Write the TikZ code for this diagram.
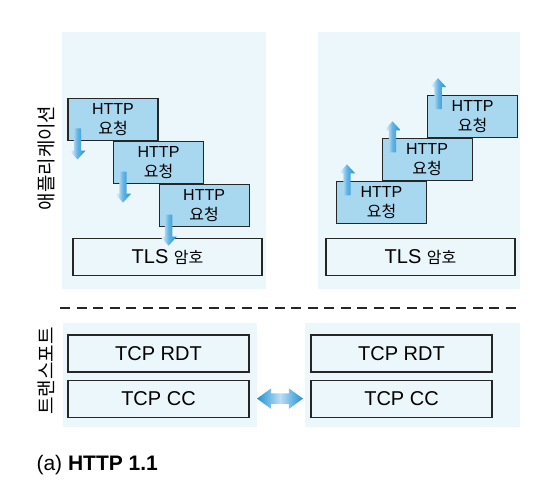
\documentclass[tikz,border=0pt]{standalone}
\usepackage{fontspec}
\setmainfont{Liberation Sans}
\newfontfamily\kr{Noto Sans CJK KR}
\usepackage{xcolor}
\usetikzlibrary{shapes.arrows, positioning, calc}

\definecolor{panelbg}{RGB}{235,247,251}
\definecolor{boxblue}{RGB}{168,215,240}
\definecolor{arrowblue}{RGB}{30,146,214}

\begin{document}
\begin{tikzpicture}[
        x=1pt, y=-1pt,
        panel/.style={fill=panelbg, draw=none},
        reqbox/.style={rectangle, draw=black!85, line width=1.1pt, fill=boxblue, minimum width=90pt, minimum height=42pt, inner sep=0pt, align=center, font=\fontsize{16}{20}\selectfont},
        layer/.style={rectangle, draw=black!85, line width=1.1pt, fill=panelbg, minimum width=181pt, minimum height=37pt, inner sep=0pt, font=\fontsize{20}{24}\selectfont},
        reqarrow/.style={single arrow, draw=none, minimum height=31pt, inner xsep=0pt, inner ysep=3.5pt, single arrow head extend=4.5pt, single arrow tip angle=85, single arrow head indent=0pt, left color=white, right color=arrowblue, middle color=arrowblue!70},
        sidelabel/.style={rotate=90, font=\kr\fontsize{19}{22}\selectfont}
    ]
        \useasboundingbox (0,0) rectangle (544,486);

        % Backgrounds
        \fill[panel] (62,32) rectangle (266,289);
        \fill[panel] (318,32) rectangle (520,289);
        \fill[panel] (63,323) rectangle (257,427);
        \fill[panel] (305,323) rectangle (520,427);

        % Application layer, left
        \node[reqbox] (reqL1) at (113,119.5) {HTTP\\{\kr 요청}};
        \node[reqbox, anchor=north west] (reqL2) at (reqL1.south) {HTTP\\{\kr 요청}};
        \node[reqbox, anchor=north west] (reqL3) at (reqL2.south) {HTTP\\{\kr 요청}};
        \node[layer, minimum width=189pt] (tlsL) at (167.5,257) {TLS {\kr\fontsize{16}{20}\selectfont 암호}};

        % Application layer, right
        \node[reqbox] (reqR1) at (381.5,202.5) {HTTP\\{\kr 요청}};
        \node[reqbox, anchor=south west] (reqR2) at (reqR1.north) {HTTP\\{\kr 요청}};
        \node[reqbox, anchor=south west] (reqR3) at (reqR2.north) {HTTP\\{\kr 요청}};
        \node[layer, minimum width=189pt] (tlsR) at (420.5,257) {TLS {\kr\fontsize{16}{20}\selectfont 암호}};

        % Request arrows
        \foreach \r in {reqL1, reqL2, reqL3}
            \node[reqarrow, rotate=-90] at ($(\r.north west)+(10,44)$) {};
        \foreach \r in {reqR1, reqR2, reqR3}
            \node[reqarrow, rotate=90] at ($(\r.north west)+(11,1)$) {};

        % Separator
        \draw[line width=1.1pt, dash pattern=on 10pt off 6.5pt, black!85] (60,308) -- (520,308);

        % Transport layer
        \node[layer] (rdtL) at (158.5,353.5) {TCP RDT};
        \node[layer, below=7pt of rdtL] (ccL) {TCP CC};
        \node[layer] (rdtR) at (401.5,353.5) {TCP RDT};
        \node[layer, below=7pt of rdtR] (ccR) {TCP CC};

        \node[double arrow, draw=none, minimum height=46pt, inner xsep=0pt, inner ysep=5pt, double arrow head extend=5pt, double arrow tip angle=72, double arrow head indent=0pt, left color=arrowblue, right color=arrowblue, middle color=arrowblue!30] (ccLink) at ($(ccL.east)!0.5!(ccR.west)$) {};

        % Layer labels
        \node[sidelabel] (appLabel) at (46,158) {애플리케이션};
        \node[sidelabel] (trLabel) at (46,371) {트랜스포트};

        \node[anchor=west, font=\fontsize{21}{24}\selectfont] (caption) at (33,465) {(a) \textbf{HTTP 1.1}};
    \end{tikzpicture}
\end{document}
